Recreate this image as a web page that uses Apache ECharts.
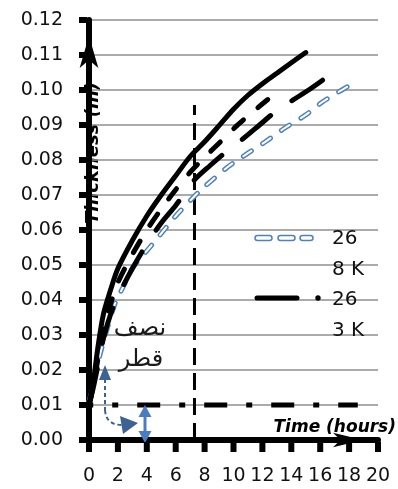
<!DOCTYPE html>
<html><head><meta charset="utf-8">
<script src="https://cdn.jsdelivr.net/npm/echarts@6/dist/echarts.min.js"></script>
<style>html,body{margin:0;padding:0;background:#fff}#c{width:398px;height:489px}</style>
</head><body><div id="c"></div>
<script>
// ---- data ----
const xTicks = [0,2,4,6,8,10,12,14,16,18,20];
const yTicks = [0,0.01,0.02,0.03,0.04,0.05,0.06,0.07,0.08,0.09,0.10,0.11,0.12];

const solidT = [0, 0.15, 0.35, 0.6, 1, 1.5, 2, 3, 4, 5, 6, 7, 8, 9, 10, 11, 12, 13, 14, 15];
const solidY = [0.010, 0.0125, 0.018, 0.026, 0.036, 0.043, 0.049, 0.057, 0.064, 0.070, 0.0755, 0.081, 0.0852, 0.0898, 0.0945, 0.0985, 0.1018, 0.1048, 0.1078, 0.1107];

const dashT = [0, 0.3, 0.7, 1, 1.5, 2, 3, 4, 5, 6, 7, 8.15, 9.1, 10.1, 11.1, 12.2, 13.3];
const dashY = [0.010, 0.016, 0.025, 0.032, 0.039, 0.045, 0.053, 0.060, 0.066, 0.0715, 0.0765, 0.0814, 0.0852, 0.0893, 0.0929, 0.0967, 0.1002];

const longT = [0, 0.3, 0.7, 1, 1.5, 2, 3, 4, 5, 6, 7.3, 8.4, 9.5, 10.7, 11.8, 12.9, 14.1, 15.2, 16.2];
const longY = [0.010, 0.015, 0.023, 0.029, 0.036, 0.041, 0.049, 0.056, 0.062, 0.067, 0.0743, 0.0785, 0.0824, 0.0862, 0.090, 0.0938, 0.0971, 0.100, 0.1029];

const blueT = [0, 0.2, 0.4, 0.8, 1.2, 1.8, 2.4, 3, 4.2, 5, 6, 7.5, 8, 9.6, 10.8, 12.2, 13.5, 15, 16.2, 17.5, 18.6];
const blueY = [0.011, 0.014, 0.018, 0.025, 0.031, 0.039, 0.044, 0.049, 0.055, 0.059, 0.064, 0.0705, 0.0724, 0.078, 0.0814, 0.0852, 0.089, 0.0929, 0.0967, 0.100, 0.1027];

const vLineT = [7.3, 7.3];
const vLineY = [0, 0.0957];
const hLineT = [-1.3, 18.6];
const hLineY = [0.01, 0.01];

const legendNames = ['26\n8 K', '26\n3 K'];
const xTitle = 'Time (hours)';
const yTitle = 'Thickness (m)';
const noteLines = ['نصف', 'قطر'];

// ---- build ----
const zip = (a, b) => a.map((v, i) => [v, b[i]]);
const FONT = 'DejaVu Sans';
const BLUE = '#4f81bd';

const chart = echarts.init(document.getElementById('c'), null, {renderer: 'canvas'});
const base = {type: 'line', showSymbol: false, symbol: 'none', silent: true, animation: false,
  smooth: 0.3, clip: false};

const staticGraphics = [
    {type: 'text', x: 93, y: 153, rotation: Math.PI / 2, z: 0,
      style: {text: yTitle, font: 'italic bold 18px "DejaVu Sans"', fill: '#000', align: 'center', verticalAlign: 'middle'}},
    {type: 'text', x: 396, y: 428, z: 10,
      style: {text: xTitle, font: 'italic bold 17px "DejaVu Sans"', fill: '#000', align: 'right', verticalAlign: 'middle'}},
    {type: 'text', x: 140, y: 329, z: 10,
      style: {text: noteLines[0], font: '24px "DejaVu Sans"', fill: '#1a1a1a', align: 'center', verticalAlign: 'middle'}},
    {type: 'text', x: 141, y: 360, z: 10,
      style: {text: noteLines[1], font: '24px "DejaVu Sans"', fill: '#1a1a1a', align: 'center', verticalAlign: 'middle'}},
    {type: 'rect', z: 10, shape: {x: 255, y: 235.5, width: 17, height: 5, r: 2.5}, style: {fill: '#fff', stroke: BLUE, lineWidth: 1.5}},
    {type: 'rect', z: 10, shape: {x: 278, y: 235.5, width: 17, height: 5, r: 2.5}, style: {fill: '#fff', stroke: BLUE, lineWidth: 1.5}},
    {type: 'rect', z: 10, shape: {x: 300, y: 235.5, width: 13, height: 5, r: 2.5}, style: {fill: '#fff', stroke: BLUE, lineWidth: 1.5}},
    {type: 'text', x: 332, y: 239, z: 10,
      style: {text: legendNames[0].split('\n')[0], font: '20px "DejaVu Sans"', fill: '#111', align: 'left', verticalAlign: 'middle'}},
    {type: 'text', x: 332, y: 270, z: 10,
      style: {text: legendNames[0].split('\n')[1], font: '20px "DejaVu Sans"', fill: '#111', align: 'left', verticalAlign: 'middle'}},
    {type: 'line', z: 10, shape: {x1: 257, y1: 298, x2: 297, y2: 298}, style: {stroke: '#000', lineWidth: 5, lineCap: 'round'}},
    {type: 'circle', z: 10, shape: {cx: 318, cy: 298, r: 2.7}, style: {fill: '#000'}},
    {type: 'text', x: 332, y: 300, z: 10,
      style: {text: legendNames[1].split('\n')[0], font: '20px "DejaVu Sans"', fill: '#111', align: 'left', verticalAlign: 'middle'}},
    {type: 'text', x: 332, y: 331, z: 10,
      style: {text: legendNames[1].split('\n')[1], font: '20px "DejaVu Sans"', fill: '#111', align: 'left', verticalAlign: 'middle'}},
    {type: 'line', z: 10, shape: {x1: 105, y1: 379, x2: 105, y2: 410},
      style: {stroke: '#3d6394', lineWidth: 2, lineDash: [4, 3]}},
    {type: 'bezierCurve', z: 10, shape: {x1: 105, y1: 410, x2: 122, y2: 425, cpx1: 106, cpy1: 425},
      style: {stroke: '#3d6394', lineWidth: 2, lineDash: [4, 3], fill: null}},
    {type: 'polygon', z: 10, shape: {points: [[105, 365], [99, 380], [111, 380]]}, style: {fill: '#3d6394'}},
    {type: 'polygon', z: 10, shape: {points: [[138, 423], [120, 416], [123, 434]]}, style: {fill: '#3d6394'}},
    {type: 'line', z: 10, shape: {x1: 145, y1: 414, x2: 145, y2: 435}, style: {stroke: '#4a7dbf', lineWidth: 3}},
    {type: 'polygon', z: 10, shape: {points: [[145, 405], [138.5, 417], [151.5, 417]]}, style: {fill: '#4a7dbf'}},
    {type: 'polygon', z: 10, shape: {points: [[145, 443], [138.5, 431], [151.5, 431]]}, style: {fill: '#4a7dbf'}}
];

chart.setOption({
  animation: false,
  backgroundColor: '#fff',
  grid: {left: 89, right: 20, top: 20, bottom: 49, containLabel: false},
  xAxis: {
    type: 'value', min: 0, max: 20, interval: 2,
    axisLine: {show: true, onZero: false, lineStyle: {color: '#000', width: 6},
      symbol: ['none', 'arrow'], symbolSize: [11, 30], symbolOffset: [0, -15]},
    axisTick: {show: false},
    splitLine: {show: false},
    axisLabel: {margin: 27, fontFamily: FONT, fontSize: 19, color: '#111',
      formatter: v => xTicks.includes(v) ? String(v) : ''}
  },
  yAxis: {
    type: 'value', min: 0, max: 0.12, interval: 0.01,
    axisLine: {show: true, onZero: false, lineStyle: {color: '#000', width: 6},
      symbol: ['none', 'arrow'], symbolSize: [14, 32], symbolOffset: [0, -16]},
    axisTick: {show: false},
    splitLine: {show: true, lineStyle: {color: '#8f8f8f', width: 1.5}},
    axisLabel: {margin: 26, fontFamily: FONT, fontSize: 19, color: '#111',
      formatter: v => yTicks.some(t => Math.abs(t - v) < 1e-9) ? v.toFixed(2) : ''}
  },
  series: [
    Object.assign({}, base, {name: 'ref-h', smooth: false, data: zip(hLineT, hLineY), z: 1,
      lineStyle: {color: '#000', width: 5, type: [23, 19, 6, 19], cap: 'butt'}}),
    Object.assign({}, base, {name: 'ref-v', smooth: false, data: zip(vLineT, vLineY), z: 1,
      lineStyle: {color: '#000', width: 3, type: [17, 8], cap: 'butt'}}),
    Object.assign({}, base, {name: legendNames[0], data: zip(blueT, blueY), z: 3,
      lineStyle: {color: BLUE, width: 5, type: [10, 13], cap: 'round'}}),
    Object.assign({}, base, {name: 'blue-inner', data: zip(blueT, blueY), z: 4,
      lineStyle: {color: '#fff', width: 2, type: [10, 13], cap: 'round'}}),
    Object.assign({}, base, {name: legendNames[1], data: zip(longT, longY), z: 5,
      lineStyle: {color: '#000', width: 5, type: [37, 26], cap: 'round'}}),
    Object.assign({}, base, {name: 'dashed', data: zip(dashT, dashY), z: 5,
      lineStyle: {color: '#000', width: 5, type: [13, 19], cap: 'round'}}),
    Object.assign({}, base, {name: 'solid', data: zip(solidT, solidY), z: 6,
      lineStyle: {color: '#000', width: 5, cap: 'round'}})
  ],
  graphic: staticGraphics
});

// tick marks placed through the axes' own scales
const tickRects = [];
yTicks.forEach(v => {
  const p = chart.convertToPixel({gridIndex: 0}, [0, v]);
  tickRects.push({type: 'rect', z: 20, shape: {x: p[0] - 10, y: p[1] - 3, width: 8, height: 6}, style: {fill: '#000'}});
});
xTicks.forEach(v => {
  const p = chart.convertToPixel({gridIndex: 0}, [v, 0]);
  tickRects.push({type: 'rect', z: 20, shape: {x: p[0] - 3, y: p[1] + 2, width: 6, height: 10}, style: {fill: '#000'}});
});
chart.setOption({graphic: staticGraphics.concat(tickRects)});
</script>
</body></html>
